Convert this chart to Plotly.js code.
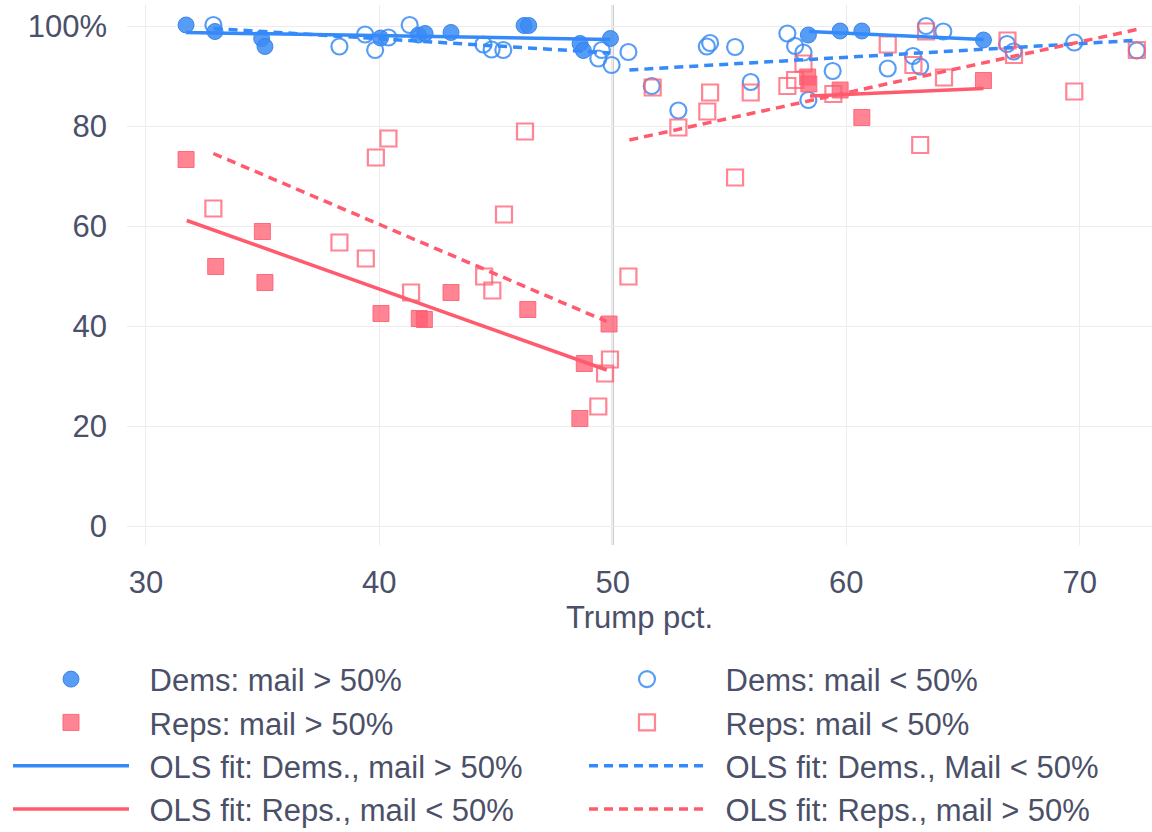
<!DOCTYPE html>
<html>
<head>
<meta charset="utf-8">
<script src="https://cdn.plot.ly/plotly-3.0.1.min.js"></script>
<style>
  html, body { margin: 0; padding: 0; background: #fff; }
  #chart { width: 1152px; height: 832px; }
</style>
</head>
<body>
<div id="chart"></div>
<script>
// Share of each party's voters backing its own candidate, by county Trump share,
// split by whether more or less than half of ballots were cast by mail.

// Democrats, mail share > 50%
const demsMailHiX = [31.72, 32.96, 34.96, 35.10, 40.05, 41.67, 41.96, 43.07, 46.2, 46.4, 48.6, 48.74, 49.9, 58.38, 59.74, 60.67, 65.88];
const demsMailHiY = [100.2, 98.9, 97.5, 95.9, 97.6, 98.2, 98.5, 98.7, 100.1, 100.1, 96.5, 95.1, 97.5, 98.2, 99.0, 99.0, 97.2];

// Democrats, mail share < 50%
const demsMailLoX = [32.89, 38.29, 39.39, 39.82, 40.39, 41.30, 44.46, 44.81, 45.31, 49.38, 49.53, 49.95, 50.67, 51.67, 52.81, 54.03, 54.17, 55.24, 55.91, 57.48, 57.81, 58.17, 58.38, 59.42, 61.78, 62.86, 63.17, 63.42, 64.16, 66.89, 67.17, 69.77, 72.45];
const demsMailLoY = [100.2, 95.9, 98.3, 95.2, 97.7, 100.2, 96.3, 95.3, 95.2, 93.5, 95.2, 92.2, 94.8, 88.0, 83.1, 95.9, 96.6, 95.8, 88.8, 98.5, 96.0, 94.7, 85.2, 91.0, 91.5, 94.0, 91.9, 100.0, 98.9, 96.4, 94.9, 96.7, 95.1];

// Republicans, mail share > 50%
const repsMailHiX = [31.72, 32.99, 34.99, 35.10, 40.07, 41.71, 41.93, 43.07, 46.36, 48.78, 48.59, 49.84, 58.35, 58.40, 59.74, 60.67, 65.88];
const repsMailHiY = [73.3, 51.9, 58.9, 48.7, 42.5, 41.5, 41.3, 46.7, 43.3, 32.5, 21.5, 40.4, 89.8, 88.4, 87.2, 81.7, 89.1];

// Republicans, mail share < 50%
const repsMailLoX = [32.89, 38.29, 39.42, 39.85, 40.39, 41.36, 44.49, 44.84, 45.34, 46.24, 49.38, 49.67, 49.88, 50.67, 51.71, 52.81, 54.05, 54.17, 55.24, 55.91, 57.48, 57.81, 58.17, 59.45, 61.78, 62.88, 63.17, 63.42, 64.19, 66.91, 67.19, 69.77, 72.45];
const repsMailLoY = [63.5, 56.7, 53.5, 73.7, 77.5, 46.7, 49.9, 47.1, 62.3, 78.9, 23.9, 30.5, 33.3, 49.9, 87.7, 79.7, 82.9, 86.7, 69.7, 86.7, 88.0, 89.2, 92.5, 86.4, 96.3, 92.2, 76.2, 98.9, 89.7, 97.1, 94.2, 86.9, 95.2];

// OLS fit segments (left block below 50, right block above 50; null splits them)
const fitDemsHiX = [31.72, 49.9, null, 58.4, 65.88];
const fitDemsHiY = [98.7, 97.3, null, 98.9, 97.3];
const fitDemsLoX = [32.9, 49.9, null, 50.71, 72.3];
const fitDemsLoY = [99.5, 94.6, null, 91.2, 97.1];
const fitRepsSolidX = [31.75, 49.74, null, 58.45, 65.88];
const fitRepsSolidY = [61.1, 31.2, null, 86.0, 87.5];
const fitRepsDashX = [32.89, 49.74, null, 50.71, 72.45];
const fitRepsDashY = [74.5, 40.9, null, 77.2, 99.3];

const yTickVals = [0, 20, 40, 60, 80, 100];
const yTickText = ['0', '20', '40', '60', '80', '100%'];
const xTickVals = [30, 40, 50, 60, 70];

const BLUE = 'rgba(58,140,245,0.85)';
const RED = 'rgba(255,92,112,0.75)';
const BLUE_LINE = 'rgb(52,138,250)';
const RED_LINE = 'rgb(255,90,110)';
const DASH = '9px,6px';

// en space keeps the legend labels clear of the long legend swatches
const GAP = '\u2002';

const traces = [
  { x: demsMailHiX, y: demsMailHiY, name: GAP + 'Dems: mail > 50%', mode: 'markers', type: 'scatter',
    marker: { symbol: 'circle', size: 16, color: BLUE, line: { width: 1, color: 'rgba(50,125,230,0.9)' } } },
  { x: demsMailLoX, y: demsMailLoY, name: GAP + 'Dems: mail < 50%', mode: 'markers', type: 'scatter',
    marker: { symbol: 'circle-open', size: 16, color: BLUE, line: { width: 2.2 } } },
  { x: repsMailHiX, y: repsMailHiY, name: GAP + 'Reps: mail > 50%', mode: 'markers', type: 'scatter',
    marker: { symbol: 'square', size: 16, color: RED, line: { width: 1, color: 'rgba(255,92,112,0.85)' } } },
  { x: repsMailLoX, y: repsMailLoY, name: GAP + 'Reps: mail < 50%', mode: 'markers', type: 'scatter',
    marker: { symbol: 'square-open', size: 16, color: RED, line: { width: 2.2 } } },
  { x: fitDemsHiX, y: fitDemsHiY, name: GAP + 'OLS fit: Dems., mail > 50%', mode: 'lines', type: 'scatter',
    line: { color: BLUE_LINE, width: 3.5 } },
  { x: fitDemsLoX, y: fitDemsLoY, name: GAP + 'OLS fit: Dems., Mail < 50%', mode: 'lines', type: 'scatter',
    line: { color: BLUE_LINE, width: 3.5, dash: DASH } },
  { x: fitRepsSolidX, y: fitRepsSolidY, name: GAP + 'OLS fit: Reps., mail < 50%', mode: 'lines', type: 'scatter',
    line: { color: RED_LINE, width: 3.5 } },
  { x: fitRepsDashX, y: fitRepsDashY, name: GAP + 'OLS fit: Reps., mail > 50%', mode: 'lines', type: 'scatter',
    line: { color: RED_LINE, width: 3.5, dash: DASH } }
];

const FONT = { family: 'Liberation Sans, Arial, sans-serif', size: 31, color: '#4b5069' };

const layout = {
  width: 1152,
  height: 832,
  paper_bgcolor: '#fff',
  plot_bgcolor: '#fff',
  font: FONT,
  margin: { l: 127, r: 0, t: 5, b: 287, autoexpand: false },
  xaxis: {
    range: [29.19, 73.1],
    tickvals: xTickVals,
    showgrid: true, gridcolor: '#ececec', gridwidth: 1,
    zeroline: false, showline: false, ticks: '',
    ticklabelstandoff: 16,
    title: { text: 'Trump pct.', font: FONT, standoff: 0 }
  },
  yaxis: {
    range: [-3.8, 104.2],
    tickvals: yTickVals,
    ticktext: yTickText,
    showgrid: true, gridcolor: '#ececec', gridwidth: 1,
    zeroline: false, showline: false, ticks: '',
    ticklabelstandoff: 19
  },
  shapes: [
    { type: 'line', xref: 'x', yref: 'paper', x0: 50, x1: 50, y0: 0, y1: 1,
      line: { color: '#cfcfcf', width: 2.5 }, layer: 'below' }
  ],
  showlegend: true,
  legend: {
    orientation: 'h',
    x: -0.1161, xanchor: 'left',
    y: -0.199, yanchor: 'top',
    entrywidth: 445, entrywidthmode: 'pixels',
    itemwidth: 116,
    font: FONT,
    bgcolor: 'rgba(0,0,0,0)',
    traceorder: 'normal'
  }
};

Plotly.newPlot('chart', traces, layout, { displayModeBar: false, staticPlot: true });
</script>
</body>
</html>
